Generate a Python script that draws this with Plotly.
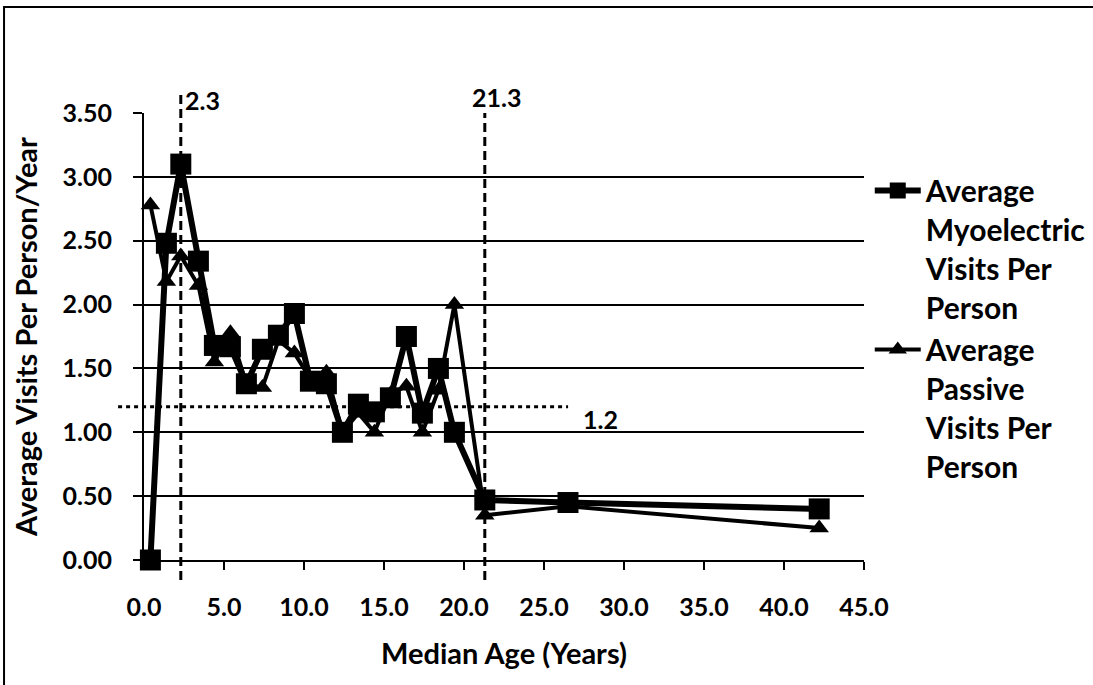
import plotly.graph_objects as go

# ---- data ----
median_age = [0.4, 1.4, 2.3, 3.4, 4.4, 5.4, 6.4, 7.4, 8.4, 9.4, 10.4, 11.4,
              12.4, 13.4, 14.4, 15.4, 16.4, 17.4, 18.4, 19.4, 21.3, 26.5, 42.2]
myoelectric = [0.00, 2.48, 3.10, 2.34, 1.68, 1.67, 1.38, 1.65, 1.76, 1.93, 1.40, 1.38,
               1.00, 1.22, 1.16, 1.27, 1.75, 1.15, 1.50, 1.00, 0.47, 0.45, 0.40]
passive = [2.78, 2.18, 2.38, 2.15, 1.55, 1.78, 1.38, 1.35, 1.72, 1.62, 1.42, 1.47,
           1.00, 1.15, 1.00, 1.30, 1.36, 1.00, 1.33, 2.00, 0.35, 0.42, 0.25]

series_names = ["Average<br>Myoelectric<br>Visits Per<br>Person",
                "Average<br>Passive<br>Visits Per<br>Person"]

ref_age_lines = [2.3, 21.3]      # vertical dashed reference lines
ref_visit_line = 1.2             # horizontal dotted reference line

x_ticks = [0, 5, 10, 15, 20, 25, 30, 35, 40, 45]
y_ticks = [0, 0.5, 1.0, 1.5, 2.0, 2.5, 3.0, 3.5]

FONT = "Lato"

fig = go.Figure()
fig.add_trace(go.Scatter(
    x=median_age, y=myoelectric, name=series_names[0], mode="lines+markers",
    line=dict(color="black", width=6),
    marker=dict(symbol="square", size=21, color="black"),
    cliponaxis=False,
))
fig.add_trace(go.Scatter(
    x=median_age, y=passive, name=series_names[1], mode="lines+markers",
    line=dict(color="black", width=4),
    marker=dict(symbol="triangle-up", size=17, color="black"),
    cliponaxis=False,
))

# vertical dashed lines (value on x, extend slightly beyond plot vertically)
tops = [1.05, 1.0]
for xv, top in zip(ref_age_lines, tops):
    fig.add_shape(type="line", xref="x", yref="paper", x0=xv, x1=xv, y0=-0.045, y1=top,
                  line=dict(color="black", width=3, dash="9px,5px"), layer="above")
# horizontal dotted line
fig.add_shape(type="line", xref="paper", yref="y", x0=-0.036, x1=0.589,
              y0=ref_visit_line, y1=ref_visit_line,
              line=dict(color="black", width=3, dash="4px,4px"), layer="above")

ann_font = dict(family=FONT, size=25, color="black", weight="bold")
fig.add_annotation(x=ref_age_lines[0], y=1.03, xref="x", yref="paper", text=f"{ref_age_lines[0]:.1f}",
                   showarrow=False, xanchor="left", yanchor="middle", xshift=2, font=ann_font)
fig.add_annotation(x=ref_age_lines[1], y=1.035, xref="x", yref="paper", text=f"{ref_age_lines[1]:.1f}",
                   showarrow=False, xanchor="left", yanchor="middle", xshift=-15, font=ann_font)
fig.add_annotation(x=27.3, y=ref_visit_line, xref="x", yref="y", text=f"{ref_visit_line:.1f}",
                   showarrow=False, xanchor="left", yanchor="middle", yshift=-12, font=ann_font)

# outer frame
fig.add_shape(type="rect", xref="paper", yref="paper", x0=-0.1944, x1=1.33, y0=-0.30, y1=1.237,
              line=dict(color="black", width=2), fillcolor="rgba(0,0,0,0)", layer="below")

tick_font = dict(family=FONT, size=25, color="black", weight="bold")
title_font = dict(family=FONT, size=29, color="black", weight="bold")
fig.update_layout(
    width=1093, height=685,
    margin=dict(l=144, r=229, t=113, b=125, autoexpand=False),
    paper_bgcolor="white", plot_bgcolor="white",
    font=dict(family=FONT, color="black"),
    xaxis=dict(range=[0, 45], tickvals=x_ticks, tickformat=".1f", ticks="outside",
               ticklen=8, tickwidth=2, tickcolor="black", showline=True, linewidth=2,
               linecolor="black", showgrid=False, zeroline=False, tickfont=tick_font,
               ticklabelstandoff=16, automargin=False,
               title=dict(text="Median Age (Years)", standoff=24, font=title_font)),
    yaxis=dict(range=[0, 3.5], tickvals=y_ticks, tickformat=".2f", ticks="outside",
               ticklen=9, tickwidth=2, tickcolor="black", showline=True, linewidth=2,
               linecolor="black", showgrid=True, gridcolor="black", gridwidth=2,
               zeroline=False, tickfont=tick_font, ticklabelstandoff=16, automargin=False,
               title=dict(text="Average Visits Per Person/Year", standoff=16, font=title_font)),
    legend=dict(x=1.008, y=0.885, xanchor="left", yanchor="top", valign="top",
                font=dict(family=FONT, size=30, color="black", weight="bold"),
                bgcolor="rgba(0,0,0,0)", itemwidth=46, tracegroupgap=0),
    showlegend=True,
)

fig.write_html("out.html")
